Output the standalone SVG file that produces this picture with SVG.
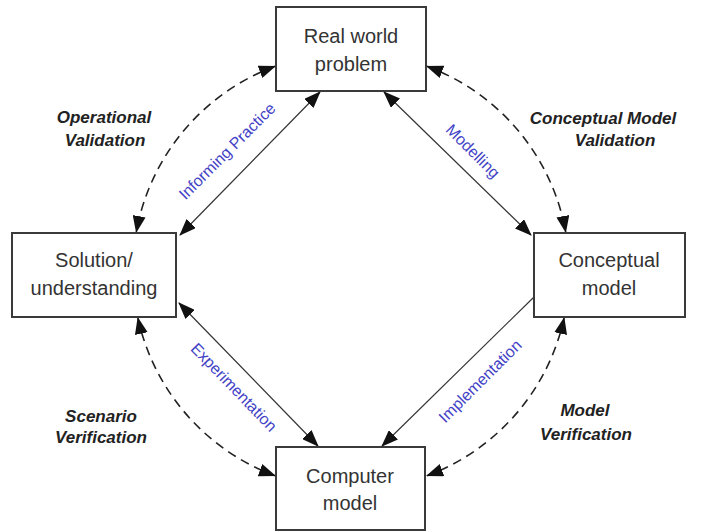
<svg xmlns="http://www.w3.org/2000/svg" width="702" height="532" viewBox="0 0 702 532">
<defs>
<style>
.box{fill:#fff;stroke:#3a3a3a;stroke-width:2}
.nt{font-family:"Liberation Sans",Arial,sans-serif;font-size:20px;fill:#333;text-anchor:middle}
.solid{fill:none;stroke:#333;stroke-width:1.2}
.dash{fill:none;stroke:#222;stroke-width:1.6;stroke-dasharray:9 6}
.bl{font-family:"Liberation Sans",Arial,sans-serif;font-size:16px;fill:#4343c6;text-anchor:middle}
.it{font-family:"Liberation Sans",Arial,sans-serif;font-size:17px;font-weight:bold;font-style:italic;fill:#222;text-anchor:middle}
</style>
<marker id="ah" markerUnits="userSpaceOnUse" markerWidth="17" markerHeight="13" refX="16" refY="6.5" orient="auto-start-reverse">
<path d="M0,0 L17,6.5 L0,13 z" fill="#111"/>
</marker>
</defs>
<rect width="702" height="532" fill="#fff"/>
<g id="connectors">
<line class="solid" x1="320" y1="92" x2="180" y2="235" marker-start="url(#ah)" marker-end="url(#ah)"/>
<line class="solid" x1="384" y1="92" x2="531" y2="235" marker-start="url(#ah)" marker-end="url(#ah)"/>
<line class="solid" x1="179" y1="303" x2="318" y2="446" marker-start="url(#ah)" marker-end="url(#ah)"/>
<line class="solid" x1="534" y1="297" x2="382" y2="446" marker-end="url(#ah)"/>
<path class="dash" d="M275,66.3 A218,218 0 0 0 136.3,232" marker-start="url(#ah)" marker-end="url(#ah)"/>
<path class="dash" d="M427,66.3 A218,218 0 0 1 565.7,232" marker-start="url(#ah)" marker-end="url(#ah)"/>
<path class="dash" d="M137.9,318 A218,218 0 0 0 275,475.7" marker-start="url(#ah)" marker-end="url(#ah)"/>
<path class="dash" d="M564.1,318 A218,218 0 0 1 427,475.7" marker-start="url(#ah)" marker-end="url(#ah)"/>
<text class="bl" transform="translate(231,155) rotate(-45)">Informing Practice</text>
<text class="bl" transform="translate(469,155) rotate(45)">Modelling</text>
<text class="bl" transform="translate(230,391) rotate(46)">Experimentation</text>
<text class="bl" transform="translate(484,385) rotate(-45)">Implementation</text>
<text class="it" x="104" y="123">Operational</text>
<text class="it" x="105" y="146">Validation</text>
<text class="it" x="603" y="124">Conceptual Model</text>
<text class="it" x="615" y="146">Validation</text>
<text class="it" x="101" y="422">Scenario</text>
<text class="it" x="101" y="443">Verification</text>
<text class="it" x="585" y="416">Model</text>
<text class="it" x="586" y="440">Verification</text>
</g>
<g id="real-world">
<rect class="box" x="276" y="7" width="150" height="84"/>
<text class="nt" x="351" y="43">Real world</text>
<text class="nt" x="351" y="71">problem</text>
</g>
<g id="solution">
<rect class="box" x="12" y="233" width="164" height="84"/>
<text class="nt" x="94" y="267">Solution/</text>
<text class="nt" x="94" y="295">understanding</text>
</g>
<g id="conceptual">
<rect class="box" x="534" y="233" width="151" height="84"/>
<text class="nt" x="609" y="267">Conceptual</text>
<text class="nt" x="609" y="295">model</text>
</g>
<g id="computer">
<rect class="box" x="276" y="447" width="149" height="83"/>
<text class="nt" x="350" y="483">Computer</text>
<text class="nt" x="350" y="510">model</text>
</g>
</svg>
